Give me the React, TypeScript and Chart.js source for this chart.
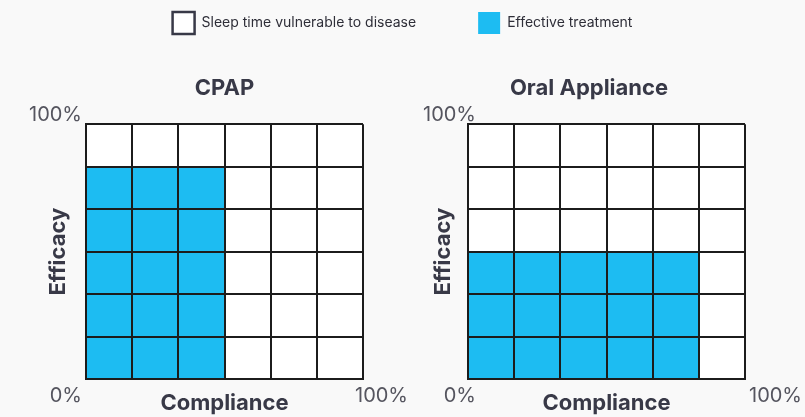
import React, { useEffect, useRef } from "react";
import { Chart, registerables } from "chart.js";

Chart.register(...registerables);

// ---- data ----
const legendLabels = ["Sleep time vulnerable to disease", "Effective treatment"];
const complianceColumns = ["0-17%", "17-33%", "33-50%", "50-67%", "67-83%", "83-100%"];
const sleepTimeRows = [6, 6, 6, 6, 6, 6];
const cpapEffectiveRows = [5, 5, 5, 0, 0, 0];
const oralEffectiveRows = [3, 3, 3, 3, 3, 0];
const chartTitles = ["CPAP", "Oral Appliance"];
const xAxisTitle = "Compliance";
const yAxisTitle = "Efficacy";
const endLabels = ["0%", "100%"];

// ---- styles ----
const FONT = "Inter";
const BLUE = "#1dbcf2";
const DARK = "#383947";
const LINE = "#1c1c1c";
const LABEL = "#55555f";
const BG = "#f9f9f9";
const TITLE_SIZE = 22;
const LH = TITLE_SIZE * 1.2;

const cornerLabels = {
  id: "cornerLabels",
  afterDraw(chart: any, _args: any, opts: any) {
    const { ctx, chartArea: a } = chart;
    const s = opts.shift || 0;
    ctx.save();
    ctx.font = `400 20px ${FONT}`;
    ctx.fillStyle = LABEL;
    ctx.textBaseline = "middle";
    ctx.textAlign = "right";
    ctx.fillText(endLabels[1], a.left - 4 + s, a.top - 9);
    ctx.fillText(endLabels[0], a.left - 4 + s, a.bottom + 17);
    ctx.textAlign = "left";
    ctx.fillText(endLabels[1], a.right - 8 + s, a.bottom + 17);
    ctx.restore();
  },
};

function gridConfig(title: string, effective: number[], p: any): any {
  const gridLine = { color: LINE, lineWidth: 2, z: 1, drawTicks: false };
  const border = { color: LINE, width: 2, z: 1 };
  const titleFont = { family: FONT, size: TITLE_SIZE, weight: "bold" as const };
  const yPadTop = p.yTitleX - LH / 2;
  const scales: any = {
    x: {
      type: "category",
      offset: true,
      grid: { ...gridLine, offset: true },
      border,
      ticks: { display: false },
      title: {
        display: true,
        text: xAxisTitle,
        color: DARK,
        font: titleFont,
        padding: { top: 38 - LH, bottom: 0 },
      },
    },
    y: {
      min: 0,
      max: 6,
      grid: gridLine,
      border,
      ticks: { display: false, stepSize: 1 },
      title: {
        display: true,
        text: yAxisTitle,
        color: DARK,
        font: titleFont,
        padding: { top: yPadTop, bottom: 86 - yPadTop - LH },
      },
    },
  };
  if (p.rightAxis) {
    scales.yR = {
      position: "right",
      display: true,
      grid: { display: false },
      border: { display: false },
      ticks: { display: false },
      afterFit(s: any) {
        s.width = p.rightAxis;
      },
    };
  }
  return {
    type: "bar",
    data: {
      labels: complianceColumns,
      datasets: [
        {
          label: legendLabels[1],
          data: effective,
          backgroundColor: BLUE,
          borderWidth: 0,
          order: 1,
          grouped: false,
          barPercentage: 1,
          categoryPercentage: 1,
        },
        {
          label: legendLabels[0],
          data: sleepTimeRows,
          backgroundColor: "#ffffff",
          borderWidth: 0,
          order: 2,
          grouped: false,
          barPercentage: 1,
          categoryPercentage: 1,
        },
      ],
    },
    options: {
      animation: false,
      responsive: false,
      maintainAspectRatio: false,
      layout: { padding: { left: 0, top: 0, bottom: 0, right: p.rightPad } },
      plugins: {
        legend: { display: false },
        tooltip: { enabled: false },
        title: {
          display: true,
          text: title,
          color: DARK,
          fullSize: p.fullSizeTitle,
          font: titleFont,
          padding: { top: 88 - LH / 2, bottom: 124.3 - (88 - LH / 2) - LH },
        },
        cornerLabels: { shift: p.labelShift },
      },
      scales,
    },
    plugins: [cornerLabels],
  };
}

function legendConfig(): any {
  return {
    type: "bar",
    data: {
      labels: [],
      datasets: [
        { label: legendLabels[0], data: [], backgroundColor: "#ffffff", borderColor: DARK, borderWidth: 2.5 },
        { label: legendLabels[1], data: [], backgroundColor: BLUE, borderWidth: 0 },
      ],
    },
    options: {
      animation: false,
      responsive: false,
      maintainAspectRatio: false,
      scales: { x: { display: false }, y: { display: false } },
      plugins: {
        tooltip: { enabled: false },
        legend: {
          display: true,
          position: "top",
          labels: {
            boxWidth: 22,
            boxHeight: 22,
            padding: 62,
            color: "#2e2e38",
            font: { family: FONT, size: 14 },
          },
        },
      },
    },
  };
}

export default function App() {
  const legendRef = useRef<HTMLCanvasElement>(null);
  const leftRef = useRef<HTMLCanvasElement>(null);
  const rightRef = useRef<HTMLCanvasElement>(null);

  useEffect(() => {
    const charts: Chart[] = [];
    charts.push(
      new Chart(leftRef.current!, gridConfig(chartTitles[0], cpapEffectiveRows, {
        rightPad: 60, fullSizeTitle: false, labelShift: 0, yTitleX: 58,
      }))
    );
    charts.push(
      new Chart(rightRef.current!, gridConfig(chartTitles[1], oralEffectiveRows, {
        rightPad: 9, rightAxis: 51, fullSizeTitle: true, labelShift: 12, yTitleX: 61.5,
      }))
    );
    charts.push(new Chart(legendRef.current!, legendConfig()));
    return () => charts.forEach((c) => c.destroy());
  }, []);

  return (
    <div
      style={{
        position: "fixed",
        left: 0,
        top: 0,
        width: 805,
        height: 417,
        background: BG,
        overflow: "hidden",
      }}
    >
      <canvas ref={leftRef} width={423} height={417} style={{ position: "absolute", left: 0, top: 0 }} />
      <canvas ref={rightRef} width={423} height={417} style={{ position: "absolute", left: 382, top: 0 }} />
      <canvas ref={legendRef} width={805} height={260} style={{ position: "absolute", left: 0, top: -50 }} />
    </div>
  );
}
